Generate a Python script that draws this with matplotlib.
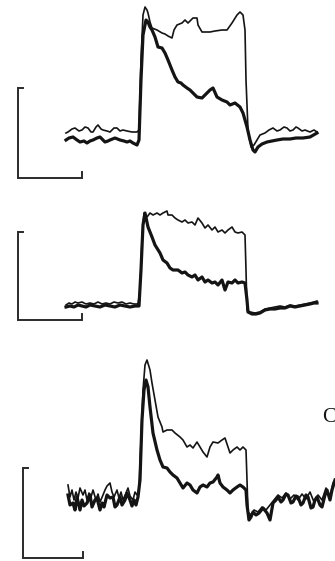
import matplotlib
matplotlib.use("Agg")
import matplotlib.pyplot as plt

# time in ms (0 = step onset), current in arbitrary units relative to baseline

# ---- panel 1 ----
t1_thin = [-74, -72, -68, -65, -61, -58, -55, -52, -49, -47, -44, -42, -39, -37, -33, -30, -26, -23, -20, -17,
           -13, -8, -3, -1, 1, 3, 5, 7, 8, 10, 12, 17, 22, 25, 28, 32, 34, 37, 42, 45, 48, 50, 53, 57, 58, 62,
           65, 70, 75, 82, 87, 92, 97, 100, 103, 105, 106, 108, 111, 114, 117, 120, 125, 129, 133, 137, 140,
           144, 147, 150, 153, 156, 158, 162, 165, 170, 174, 177]
i1_thin = [5, 6, 9, 10, 7, 8, 11, 10, 6, 6, 11, 13, 9, 8, 7, 6, 10, 10, 7, 8,
           7, 6, 6, 8, 78, 123, 131, 128, 125, 116, 110, 108, 105, 104, 102, 100, 108, 113, 115, 118, 115, 117, 120, 120, 113, 106,
           106, 106, 107, 108, 108, 115, 123, 126, 123, 108, 58, 8, -9, -7, -2, 3, 5, 8, 10, 7, 8,
           11, 10, 7, 8, 11, 10, 7, 8, 6, 8, 6]

t1_thick = [-74, -71, -67, -63, -60, -56, -53, -50, -47, -43, -40, -37, -35, -32, -30, -25, -20, -16, -13, -10,
            -7, -3, -1, 1, 3, 6, 8, 10, 12, 15, 18, 22, 25, 28, 32, 35, 38, 41, 43, 47, 50, 53, 57, 62, 65,
            70, 73, 77, 82, 87, 90, 95, 100, 103, 107, 110, 113, 115, 118, 122, 127, 132, 137, 143, 150, 156,
            163, 170, 177]
i1_thick = [-2, 0, 1, -2, -4, -3, -5, -3, -2, 0, 1, -2, -4, -3, -2, 0, -2, -3, -4, -3,
            -5, -7, -2, 58, 103, 118, 116, 111, 108, 101, 91, 90, 85, 78, 68, 61, 56, 55, 53, 50, 48, 45, 41, 40, 43,
            48, 50, 41, 38, 36, 33, 35, 31, 25, 11, -2, -12, -14, -9, -6, -4, -3, -2, -1, -1, 0,
            0, 1, 5]

# ---- panel 2 ----
t2_thin = [-74, -71, -68, -65, -62, -58, -54, -50, -46, -42, -38, -34, -30, -26, -22, -18, -14, -10, -6, -2,
           0, 2, 4, 7, 10, 13, 17, 20, 23, 27, 28, 32, 35, 38, 42, 45, 48, 52, 55, 58, 62, 65, 68, 72, 75, 78,
           82, 85, 88, 92, 95, 98, 102, 105, 106, 107, 110, 115, 120, 125, 130, 135, 140, 145, 150, 155, 160,
           165, 170, 174, 177]
i2_thin = [1, 3, 2, 4, 3, 4, 2, 3, 2, 4, 2, 3, 2, 4, 3, 4, 2, 3, 2, 2,
           16, 66, 93, 89, 93, 91, 93, 91, 93, 95, 91, 91, 88, 86, 84, 86, 83, 84, 81, 88, 83, 78, 81, 76, 79, 74,
           76, 73, 76, 79, 74, 73, 74, 71, 36, -4, -6, -7, -6, -3, -2, -1, 0, -1, 1, 0, 1,
           2, 3, 4, 5]

t2_thick = [-74, -70, -66, -62, -58, -54, -50, -45, -40, -35, -30, -25, -20, -15, -10, -5, -1, 1, 3, 5,
            8, 12, 15, 20, 23, 27, 30, 33, 38, 42, 45, 48, 52, 55, 58, 62, 65, 68, 72, 75, 78, 82, 85, 88, 92,
            95, 98, 102, 105, 107, 108, 112, 116, 120, 125, 130, 135, 140, 145, 150, 155, 160, 165, 170, 174,
            177]
i2_thick = [-1, 0, -1, 1, 0, -1, 1, 0, -1, 1, 0, -1, 1, 0, -1, 0, 0, 36, 81, 93,
            79, 69, 61, 53, 46, 43, 38, 36, 36, 33, 34, 31, 29, 31, 26, 29, 24, 26, 23, 24, 21, 26, 16, 24, 23,
            26, 23, 24, 23, 6, -6, -8, -8, -7, -4, -3, -3, -2, -2, 0, -1, 0, 1, 2, 3,
            3]

# ---- panel 3 ----
t3_thin = [-72, -70, -68, -66, -64, -62, -60, -57, -55, -53, -51, -49, -47, -44, -42, -40, -37, -35, -33, -30,
           -28, -26, -23, -21, -19, -17, -14, -12, -10, -7, -5, -3, -1, 1, 3, 5, 7, 10, 12, 15, 18, 22, 23,
           27, 32, 35, 40, 43, 47, 50, 53, 57, 60, 63, 67, 70, 73, 78, 82, 85, 88, 90, 93, 97, 100, 103, 106,
           107, 108, 111, 114, 118, 122, 126, 130, 134, 138, 142, 146, 150, 154, 158, 162, 166, 170, 174, 178,
           182, 186, 190, 193, 196]
i3_thin = [15, 3, 10, 0, 8, 2, 12, 5, 10, 0, 7, 3, 10, 0, 6, -2, 5, 10, 14, 17,
           8, 3, 10, 2, 8, 0, 7, 12, 4, 0, 8, 5, 10, 60, 110, 135, 140, 130, 117, 100, 83, 73, 68,
           70, 70, 67, 63, 60, 53, 55, 52, 58, 53, 48, 43, 53, 58, 57, 60, 62, 53, 47, 50, 53, 50, 53, 50,
           20, -12, -15, -10, -12, -7, -10, -5, 0, 5, 2, 7, 1, 5, 0, 6, 1, 8, -2, 5,
           0, 12, 3, 17, 22]

t3_thick = [-72, -70, -67, -65, -63, -60, -58, -56, -53, -50, -48, -45, -43, -40, -38, -36, -33, -30, -27, -25,
            -23, -20, -18, -15, -13, -10, -8, -6, -4, -2, 0, 2, 4, 6, 8, 10, 13, 17, 20, 23, 27, 30, 33, 37,
            40, 43, 47, 50, 53, 57, 60, 63, 67, 70, 73, 77, 78, 80, 83, 87, 90, 93, 97, 100, 103, 106, 107,
            109, 111, 113, 116, 119, 123, 127, 130, 133, 136, 138, 141, 143, 146, 148, 151, 153, 156, 158, 161,
            163, 166, 168, 171, 173, 175, 177, 180, 182, 185, 187, 190, 192, 195]
i3_thick = [5, -5, -3, -10, 3, -10, 0, -6, -3, 5, -7, 0, 2, -10, -3, -7, 5, 2, 3, -7,
            -5, 3, -5, 0, 7, 0, -6, 0, -5, 3, 20, 80, 110, 120, 113, 93, 67, 50, 40, 33, 32, 28, 25, 22,
            17, 12, 17, 15, 10, 7, 13, 15, 13, 17, 18, 23, 25, 17, 13, 10, 7, 10, 13, 15, 13, 10, -5,
            -20, -17, -12, -15, -13, -8, -13, -20, -3, 0, 3, -2, 0, 6, 5, -3, -2, 4, 3, -5,
            -3, 5, 3, -8, -7, 0, 3, -5, -7, 5, 10, 0, 10, 20]

traces = [(t1_thin, i1_thin, t1_thick, i1_thick),
          (t2_thin, i2_thin, t2_thick, i2_thick),
          (t3_thin, i3_thin, t3_thick, i3_thick)]

# panel boxes in figure pixels (top, bottom) and y-range of each panel
panel_px = [(0, 190), (190, 340), (340, 561)]
panel_ylim = [(-52, 138), (-34, 116), (-61, 160)]
# scale bars: (t0, i0, length in t, length in i)
scale_bars = [(-122, -40, 64, 90), (-122, -14, 64, 88), (-117, -58, 60, 90)]

H = 561.0
fig = plt.figure(figsize=(3.35, 5.61), dpi=100)
fig.patch.set_facecolor('white')

ink = '#141414'
for k in range(3):
	top, bot = panel_px[k]
	ax = fig.add_axes([0, 1 - bot / H, 1, (bot - top) / H])
	ax.set_xlim(-140, 195)
	ax.set_ylim(*panel_ylim[k])
	ax.axis('off')

	t_thin, i_thin, t_thick, i_thick = traces[k]
	ax.plot(t_thin, i_thin, color=ink, lw=1.2, solid_joinstyle='round')
	ax.plot(t_thick, i_thick, color=ink, lw=2.3, solid_joinstyle='round')

	# scale bar
	t0, i0, dt, di = scale_bars[k]
	ax.plot([t0 + 5, t0, t0, t0 + dt, t0 + dt], [i0 + di, i0 + di, i0, i0, i0 + 6],
	        color='#2a2a2a', lw=1.4, solid_joinstyle='miter')

# panel letter at the right edge
fig.text(322 / 335.0, 1 - 417 / H, 'C', fontsize=15, family='Liberation Serif',
         color=ink, ha='left', va='center')

fig.savefig('out.png', dpi=100)
